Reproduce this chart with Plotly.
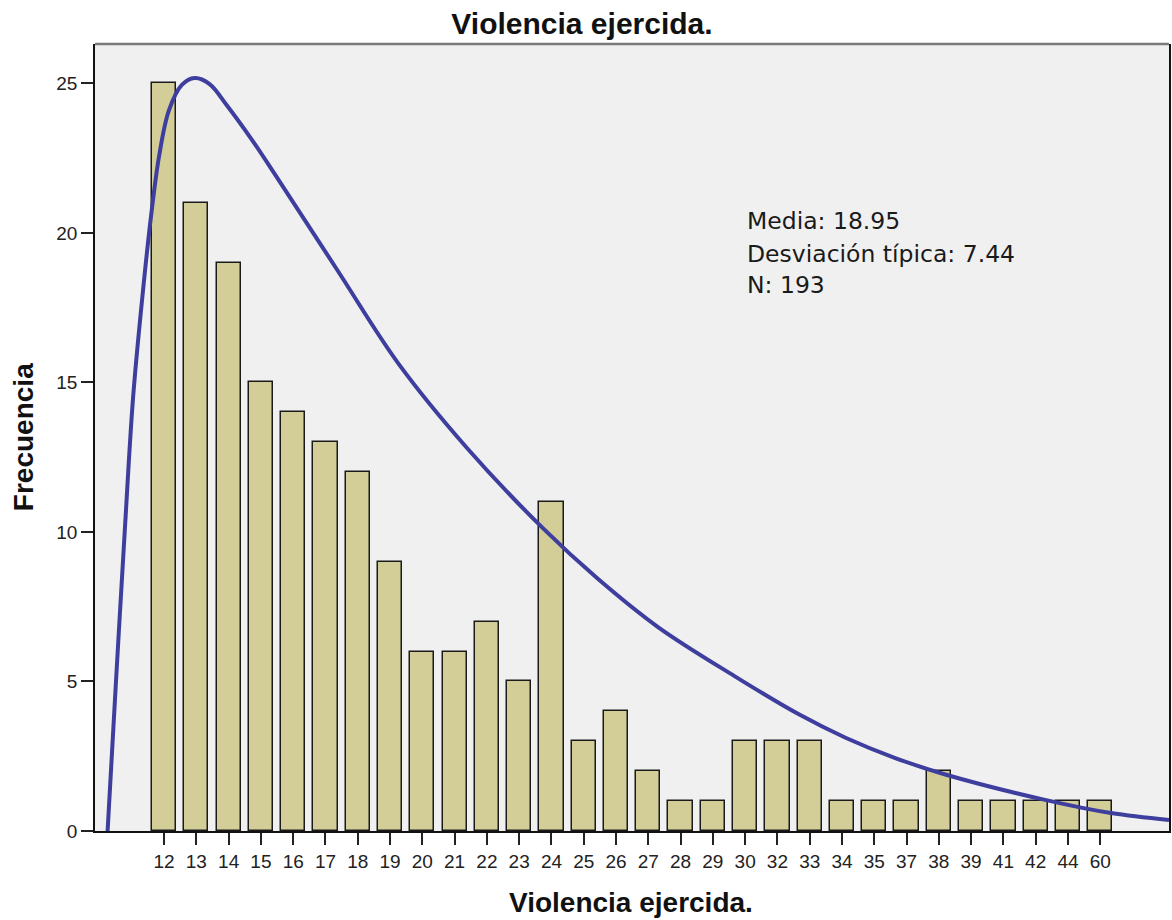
import plotly.graph_objects as go

# Frequency table of "Violencia ejercida."
categories = ["12", "13", "14", "15", "16", "17", "18", "19", "20", "21",
              "22", "23", "24", "25", "26", "27", "28", "29", "30", "32",
              "33", "34", "35", "37", "38", "39", "41", "42", "44", "60"]
frequency = [25, 21, 19, 15, 14, 13, 12, 9, 6, 6,
             7, 5, 11, 3, 4, 2, 1, 1, 3, 3,
             3, 1, 1, 1, 2, 1, 1, 1, 1, 1]

# Fitted curve, sampled along the category axis (0 = first category)
curve_pos = [-1.75, -1.49, -1.22, -0.96, -0.66, -0.40, -0.15, 0.15, 0.55, 0.95,
             1.41, 1.93, 2.70, 3.47, 5.36, 7.26, 9.39, 11.75, 13.41, 15.30,
             17.67, 19.65, 21.11, 22.65, 24.20, 27.29, 29.33, 31.13]
curve_freq = [0.0, 5.0, 10.0, 14.5, 18.0, 20.6, 22.6, 24.1, 24.95, 25.18,
              24.98, 24.29, 23.15, 21.9, 18.77, 15.63, 12.8, 10.11, 8.46, 6.82,
              5.18, 3.91, 3.12, 2.44, 1.89, 1.04, 0.6, 0.37]

stats_lines = ["Media: 18.95", "Desviación típica: 7.44", "N: 193"]

positions = list(range(len(categories)))

W, H = 1172, 920
L, R, T, B = 95, 1, 44, 89
plot_h = H - T - B

FONT = "Arial, Liberation Sans, sans-serif"
STATS_FONT = "DejaVu Sans, Verdana, sans-serif"

fig = go.Figure()
fig.add_trace(go.Bar(
    x=positions, y=frequency, width=0.75,
    marker=dict(color="#D3CE97", line=dict(color="#1a1a1a", width=1.5)),
    hoverinfo="x+y",
))
fig.add_trace(go.Scatter(
    x=curve_pos, y=curve_freq, mode="lines",
    line=dict(color="#3E3E9E", width=4, shape="spline", smoothing=1.0),
))

def py(pixel_y):
    return (H - B - pixel_y) / plot_h

def px(pixel_x):
    return (pixel_x - L) / (W - L - R)

annotations = [
    dict(text="<b>Violencia ejercida.</b>", x=px(632), y=py(902), xref="paper", yref="paper",
         showarrow=False, font=dict(family=FONT, size=28, color="#111"),
         xanchor="center", yanchor="middle"),
    dict(text="<b>Frecuencia</b>", x=px(23), y=py(437), xref="paper", yref="paper",
         showarrow=False, textangle=-90, font=dict(family=FONT, size=28, color="#111"),
         xanchor="center", yanchor="middle"),
]
for line, base in zip(stats_lines, [230, 262, 293]):
    annotations.append(dict(
        text=line, x=px(746), y=py(base - 8.5), xref="paper", yref="paper",
        showarrow=False, font=dict(family=STATS_FONT, size=23.5, color="#1a1a1a"),
        xanchor="left", yanchor="middle"))

fig.update_layout(
    width=W, height=H,
    margin=dict(l=L, r=R, t=T, b=B, pad=0),
    paper_bgcolor="white", plot_bgcolor="#F0F0F0",
    showlegend=False,
    title=dict(text="<b>Violencia ejercida.</b>", x=582 / W, y=1 - 23 / H,
               xref="container", yref="container", xanchor="center", yanchor="middle",
               font=dict(family=FONT, size=30, color="#111")),
    annotations=annotations,
    shapes=[dict(type="line", xref="paper", yref="paper", x0=0, x1=1, y0=1, y1=1,
                 line=dict(color="#7a7a7a", width=2.5))],
    bargap=0,
)
fig.update_xaxes(
    range=[-2.14, 31.13], tickmode="array", tickvals=positions, ticktext=categories,
    showgrid=False, zeroline=False, showline=True, linecolor="#111", linewidth=1.5,
    ticks="outside", ticklen=12, tickwidth=2, tickcolor="#222",
    tickfont=dict(family=FONT, size=19, color="#222"),
)
fig.update_yaxes(
    range=[0, 26.32], tickvals=[0, 5, 10, 15, 20, 25],
    showgrid=False, zeroline=False, showline=True, mirror=True, linecolor="#111", linewidth=1.5,
    ticks="outside", ticklen=12, tickwidth=2, tickcolor="#222",
    tickfont=dict(family=FONT, size=19, color="#222"),
)

fig.write_html("out.html")
